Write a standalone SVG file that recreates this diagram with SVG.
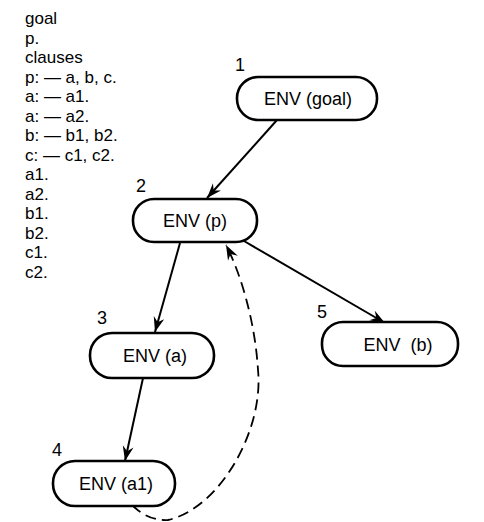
<svg xmlns="http://www.w3.org/2000/svg" width="484" height="522" viewBox="0 0 484 522">
<style>
.bg{fill:#fff}
.node rect{fill:#fff;stroke:#000;stroke-width:2.6}
.node text{font-family:"Liberation Sans",Arial,sans-serif;font-size:18px;fill:#000;text-anchor:middle}
.num{font-family:"Liberation Sans",Arial,sans-serif;font-size:16px;fill:#000;text-anchor:middle}
.list text{font-family:"Liberation Sans",Arial,sans-serif;font-size:17px;fill:#000}
.edge{fill:none;stroke:#000;stroke-width:2;marker-end:url(#ah)}
.dash{fill:none;stroke:#000;stroke-width:1.8;stroke-dasharray:11 6;marker-end:url(#ah)}
</style>
<defs>
<marker id="ah" markerUnits="userSpaceOnUse" markerWidth="17" markerHeight="12" refX="15" refY="5.5" orient="auto">
<path d="M0,0 L15,5.5 L0,11 L5,5.5 Z" fill="#000"/>
</marker>
</defs>
<rect class="bg" x="0" y="0" width="484" height="522"/>
<g id="clauses" class="list">
<text x="25" y="24">goal</text>
<text x="25" y="43.5">p.</text>
<text x="25" y="63">clauses</text>
<text x="25" y="82.5">p: — a, b, c.</text>
<text x="25" y="102">a: — a1.</text>
<text x="25" y="121.5">a: — a2.</text>
<text x="25" y="141">b: — b1, b2.</text>
<text x="25" y="160.5">c: — c1, c2.</text>
<text x="25" y="180">a1.</text>
<text x="25" y="199.5">a2.</text>
<text x="25" y="219">b1.</text>
<text x="25" y="238.5">b2.</text>
<text x="25" y="258">c1.</text>
<text x="25" y="277.5">c2.</text>
</g>
<g id="connectors">
<path class="edge" d="M277,120 L207,198"/>
<path class="edge" d="M180,243 L155,332"/>
<path class="edge" d="M244,241 L385,323"/>
<path class="edge" d="M143,378 L125,461"/>
<path class="dash" d="M132,505 Q148,521 168,520 C 220,508 264,430 258,370 C 255,320 240,272 226,245"/>
</g>
<g id="n1" class="node">
<rect x="237" y="77" width="140" height="43" rx="21"/>
<text x="308" y="105">ENV (goal)</text>
<text class="num" x="240" y="71">1</text>
</g>
<g id="n2" class="node">
<rect x="133" y="199" width="124" height="43" rx="21"/>
<text x="195" y="227">ENV (p)</text>
<text class="num" x="141" y="192">2</text>
</g>
<g id="n3" class="node">
<rect x="90" y="333" width="124" height="45" rx="22"/>
<text x="155" y="362">ENV (a)</text>
<text class="num" x="102" y="324">3</text>
</g>
<g id="n5" class="node">
<rect x="322" y="322" width="136" height="44" rx="21"/>
<text x="398" y="351" xml:space="preserve">ENV  (b)</text>
<text class="num" x="322" y="318">5</text>
</g>
<g id="n4" class="node">
<rect x="53" y="461" width="122" height="45" rx="22"/>
<text x="116" y="490">ENV (a1)</text>
<text class="num" x="57" y="456">4</text>
</g>
</svg>
